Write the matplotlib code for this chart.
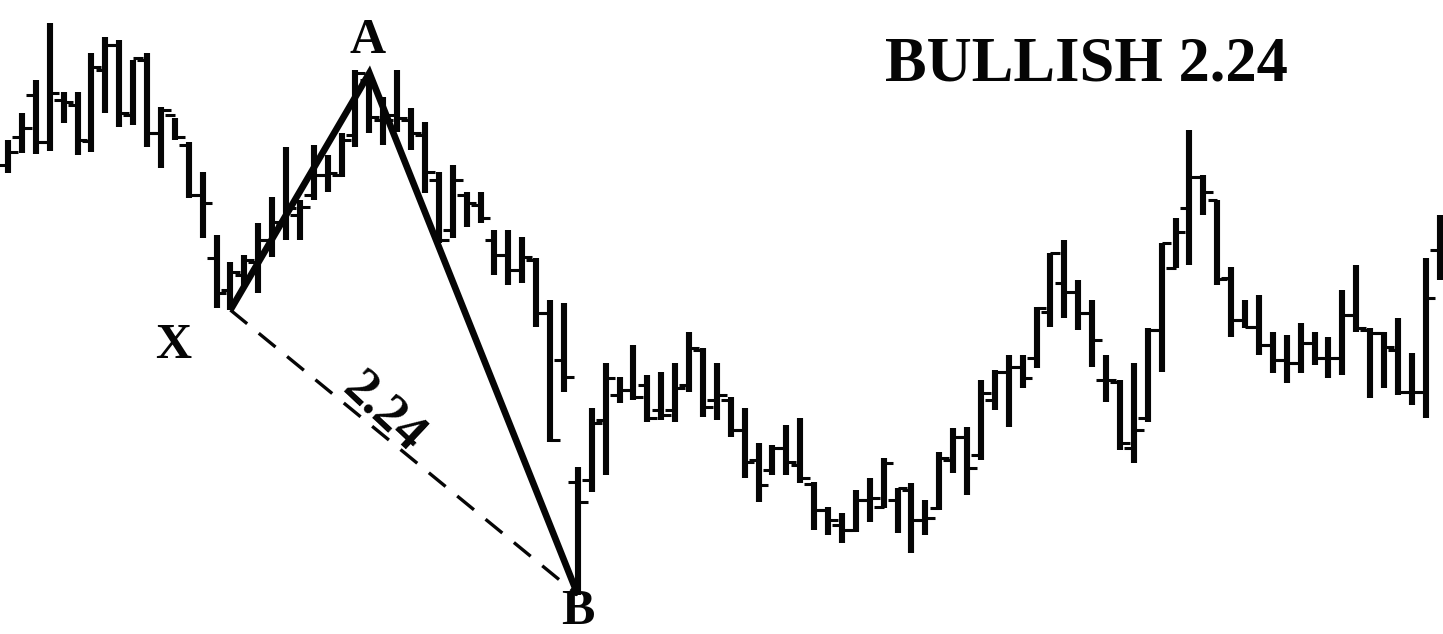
import matplotlib
matplotlib.use("Agg")
import matplotlib.pyplot as plt
import numpy as np

# daily bars (price units), oldest first
opens = [469, 497, 539, 492, 534, 529, 493, 564, 589, 519, 574, 501, 519, 489, 439, 376,
         344, 359, 372, 394, 409, 419, 439, 459, 459, 499, 554, 514, 519, 514, 499, 454,
         404, 439, 429, 394, 379, 364, 374, 321, 274, 152, 154, 214, 239, 244, 249, 224,
         224, 249, 284, 234, 234, 204, 174, 164, 186, 169, 150, 124, 109, 104, 134, 127,
         134, 144, 114, 126, 174, 197, 179, 234, 262, 267, 276, 322, 351, 342, 321, 254,
         252, 186, 216, 304, 366, 426, 457, 434, 356, 314, 307, 289, 274, 271, 291, 276,
         276, 319, 304, 301, 284, 242, 242, 384]
highs = [494, 521, 554, 611, 542, 542, 581, 597, 594, 574, 581, 527, 516, 492, 462, 399,
         372, 379, 411, 437, 487, 434, 489, 479, 501, 564, 561, 537, 564, 526, 512, 462,
         469, 442, 442, 404, 404, 397, 376, 334, 331, 167, 226, 271, 257, 289, 259, 262,
         271, 302, 286, 271, 237, 226, 191, 189, 209, 216, 152, 127, 121, 144, 156, 176,
         146, 151, 134, 182, 206, 207, 254, 264, 279, 279, 327, 381, 394, 354, 334, 279,
         254, 271, 306, 391, 416, 504, 459, 434, 367, 334, 339, 302, 299, 311, 302, 297,
         344, 369, 306, 302, 316, 281, 376, 419]
lows = [461, 481, 480, 483, 511, 479, 482, 521, 507, 509, 487, 466, 494, 436, 396, 326,
        324, 347, 341, 377, 394, 394, 434, 442, 457, 487, 501, 489, 502, 484, 441, 391,
        396, 407, 411, 359, 349, 351, 307, 192, 242, 39, 142, 159, 231, 234, 212, 214,
        212, 242, 217, 214, 197, 156, 132, 159, 159, 151, 104, 99, 91, 102, 112, 126,
        101, 81, 99, 124, 161, 139, 174, 224, 207, 246, 266, 307, 316, 304, 267, 232,
        184, 171, 212, 262, 366, 369, 419, 349, 297, 306, 279, 261, 251, 261, 269, 256,
        259, 302, 236, 246, 239, 229, 216, 354]
closes = [482, 506, 492, 541, 532, 494, 567, 589, 521, 576, 501, 524, 497, 439, 431, 341,
          362, 374, 394, 412, 426, 427, 459, 461, 494, 561, 517, 514, 516, 501, 462, 394,
          454, 431, 416, 379, 364, 377, 321, 194, 257, 132, 211, 256, 244, 237, 216, 219,
          246, 286, 227, 239, 204, 172, 149, 186, 172, 156, 124, 114, 104, 134, 136, 171,
          146, 114, 116, 176, 197, 166, 241, 262, 267, 256, 326, 381, 342, 321, 294, 254,
          191, 204, 304, 391, 402, 457, 442, 355, 314, 307, 289, 274, 271, 291, 276, 276,
          319, 306, 301, 287, 242, 242, 336, 374]

# harmonic pattern pivots: (bar index, price)
X_PT = (16, 324)
A_PT = (26, 561)
B_PT = (41, 39)
RATIO_LABEL = "2.24"
TITLE = "BULLISH 2.24"

SERIF = ["Liberation Serif", "DejaVu Serif"]
INK = "#050505"

n = len(highs)
idx = np.arange(n)

fig = plt.figure(figsize=(14.43, 6.34), dpi=100)
ax = fig.add_axes([0, 0, 1, 1])
ax.set_xlim(-0.576, 103.24)
ax.set_ylim(0, 634)
ax.axis("off")

# OHLC bars: vertical range, left tick = open, right tick = close
tick = 0.7
ax.vlines(idx, lows, highs, color=INK, lw=4.4, capstyle="butt")
ax.hlines(opens, idx - tick, idx, color=INK, lw=2.2)
ax.hlines(closes, idx, idx + tick, color=INK, lw=2.2)

# X-A-B legs
ax.plot([X_PT[0], A_PT[0], B_PT[0]], [X_PT[1], A_PT[1], B_PT[1]],
        color=INK, lw=4.8, solid_joinstyle="miter", solid_capstyle="butt")
dash, = ax.plot([X_PT[0], B_PT[0]], [X_PT[1], B_PT[1]], color=INK, lw=2.4)
dash.set_dashes((6.5, 4.5))

# point labels
lab = dict(fontsize=36, fontweight="bold", family=SERIF, color=INK,
           ha="center", va="center")
ax.annotate("X", X_PT, xytext=(-41, -26), textcoords="offset points", **lab)
ax.annotate("A", A_PT, xytext=(-1, 23), textcoords="offset points", **lab)
ax.annotate("B", B_PT, xytext=(0, -12), textcoords="offset points", **lab)

# ratio written along the X-B leg
mid_i = X_PT[0] + 0.42 * (B_PT[0] - X_PT[0])
mid_p = X_PT[1] + 0.42 * (B_PT[1] - X_PT[1])
ax.annotate(RATIO_LABEL, (mid_i, mid_p), xytext=(5, 12), textcoords="offset points",
            fontsize=38, fontweight="bold", family=SERIF, color=INK,
            ha="center", va="center", rotation=-43, rotation_mode="anchor")

fig.text(0.6135, 0.897, TITLE, fontsize=45, fontweight="bold", family=SERIF,
         color=INK, ha="left", va="center")

fig.savefig("out.png", dpi=100, facecolor="white")
